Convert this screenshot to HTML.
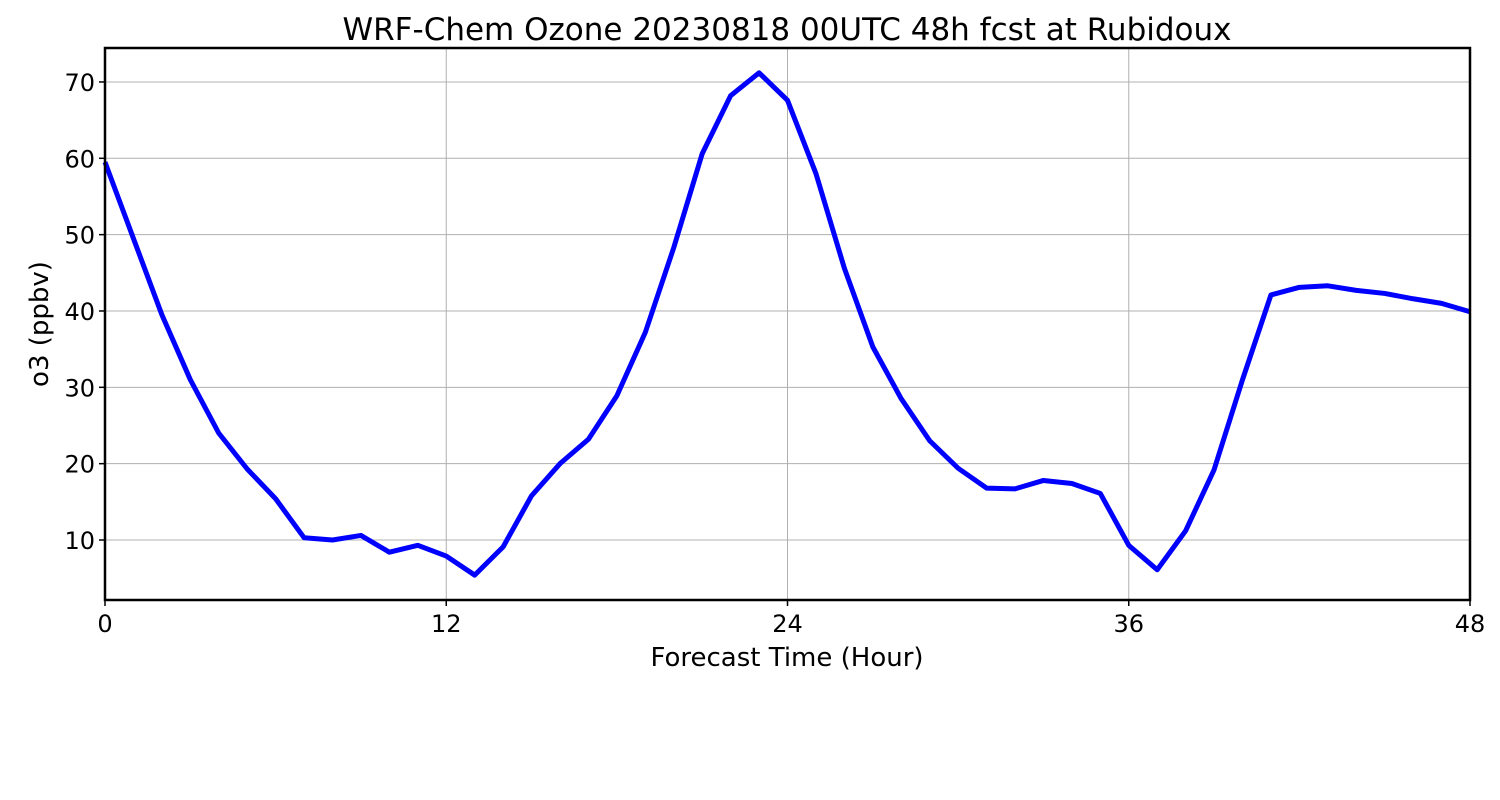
<!DOCTYPE html>
<html><head><meta charset="utf-8"><style>
body{margin:0;background:#fff;}
svg{display:block;font-family:"DejaVu Sans","Liberation Sans",sans-serif;}
</style></head><body>
<svg id="chart" width="1500" height="800" viewBox="0 0 1500 800">
<rect width="1500" height="800" fill="#fff"/>
<text x="787" y="40" font-size="31" text-anchor="middle">WRF-Chem Ozone  20230818 00UTC 48h fcst at Rubidoux</text>
<g id="grid"></g>
<g id="ticks"></g>
<polyline id="line" fill="none" stroke="#0000ff" stroke-width="5" stroke-linejoin="round"/>
<rect x="105" y="48" width="1365" height="552" fill="none" stroke="#000" stroke-width="2.5"/>
<text x="787" y="666" font-size="26" text-anchor="middle">Forecast Time (Hour)</text>
<text transform="translate(48,324) rotate(-90)" font-size="26" text-anchor="middle">o3  (ppbv)</text>
</svg>
<script>
const hours=[0,1,2,3,4,5,6,7,8,9,10,11,12,13,14,15,16,17,18,19,20,21,22,23,24,25,26,27,28,29,30,31,32,33,34,35,36,37,38,39,40,41,42,43,44,45,46,47,48];
const o3=[59.5,49.5,39.5,31,24,19.3,15.4,10.3,10.0,10.6,8.4,9.3,7.9,5.4,9.1,15.8,20.0,23.2,28.9,37.2,48.3,60.6,68.2,71.2,67.6,58.0,45.6,35.3,28.5,23.0,19.4,16.8,16.7,17.8,17.4,16.1,9.3,6.1,11.2,19.2,31.0,42.1,43.1,43.3,42.7,42.3,41.6,41.0,39.9];
const xTicks=[0,12,24,36,48];
const yTicks=[10,20,30,40,50,60,70];
const X0=105,X1=1470,Y0=600,Y1=48,xMin=0,xMax=48,yMin=2.14,yMax=74.45;
const sx=v=>X0+(v-xMin)/(xMax-xMin)*(X1-X0);
const sy=v=>Y0-(v-yMin)/(yMax-yMin)*(Y0-Y1);
const NS="http://www.w3.org/2000/svg";
const grid=document.getElementById('grid'),ticks=document.getElementById('ticks');
function mk(tag,attrs,parent){const e=document.createElementNS(NS,tag);for(const k in attrs)e.setAttribute(k,attrs[k]);parent.appendChild(e);return e;}
xTicks.forEach(t=>{
  const x=sx(t);
  const g=mk('line',{x1:x,x2:x,y1:Y1,y2:Y0,stroke:'#b0b0b0','stroke-width':1},grid);
  
  
  const tk=mk('line',{x1:x,x2:x,y1:Y0,y2:Y0+6,stroke:'#000','stroke-width':1.5},ticks);
  
  
  const tx=mk('text',{x:x,y:Y0+32,'font-size':24,'text-anchor':'middle'},ticks);
  tx.textContent=t;
  
  
});
yTicks.forEach(t=>{
  const y=sy(t);
  const g=mk('line',{x1:X0,x2:X1,y1:y,y2:y,stroke:'#b0b0b0','stroke-width':1},grid);
  
  
  const tk=mk('line',{x1:X0-6,x2:X0,y1:y,y2:y,stroke:'#000','stroke-width':1.5},ticks);
  
  
  const tx=mk('text',{x:X0-10,y:y+9,'font-size':24,'text-anchor':'end'},ticks);
  tx.textContent=t;
  
  
});
document.getElementById('line').setAttribute('points',hours.map((h,i)=>sx(h)+','+sy(o3[i])).join(' '));
</script>
</body></html>
